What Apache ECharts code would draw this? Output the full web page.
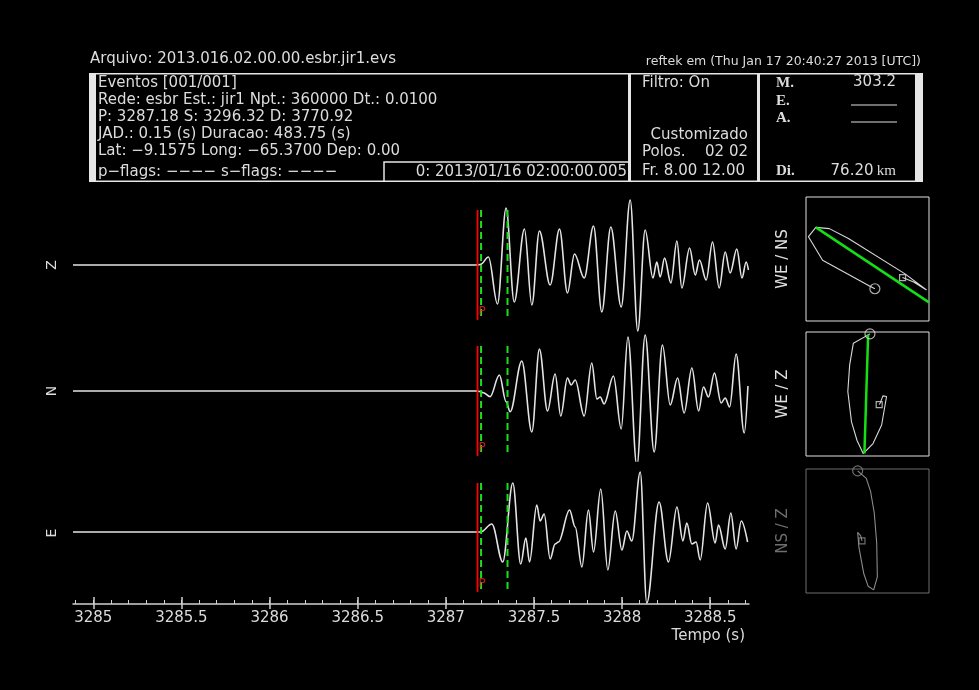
<!DOCTYPE html>
<html>
<head>
<meta charset="utf-8">
<script src="https://cdn.jsdelivr.net/npm/echarts@6/dist/echarts.min.js"></script>
<style>
  html, body { margin: 0; padding: 0; background: #000; }
  #chart { width: 979px; height: 690px; }
</style>
</head>
<body>
<div id="chart"></div>
<script>
// ---- Time axis ----
const timeMin = 3284.885;
const timeMax = 3288.72;
const timeTickLabels = [3285, 3285.5, 3286, 3286.5, 3287, 3287.5, 3288, 3288.5];

// ---- Picks (s) ----
const pTime = 3287.18;
const windowStart = 3287.20;
const windowEnd = 3287.35;

// ---- Component labels ----
const componentNames = ['Z', 'N', 'E'];

// ---- Filtered traces: [time (s), amplitude] at turning points ----
const traceZ = [
  [3284.885, 0], [3287.179, 0], [3287.198, 0.7], [3287.242, 8], [3287.293, -39],
  [3287.342, 57], [3287.388, -37], [3287.446, 36], [3287.488, -40], [3287.531, 34],
  [3287.592, -20], [3287.645, 36], [3287.690, -28], [3287.730, 11], [3287.785, -13],
  [3287.838, 39], [3287.885, -47], [3287.936, 38], [3287.995, -42], [3288.046, 65],
  [3288.089, -66], [3288.131, 35], [3288.175, -13], [3288.197, 3], [3288.216, -12],
  [3288.241, 7], [3288.277, -18], [3288.311, 24], [3288.339, -23], [3288.383, 17],
  [3288.415, -10], [3288.439, 5], [3288.477, -15], [3288.513, 23], [3288.551, -23],
  [3288.585, 13], [3288.613, -8], [3288.651, 16], [3288.680, -13], [3288.704, 3],
  [3288.717, -5]
];
const traceN = [
  [3284.885, 0], [3287.179, 0], [3287.213, -1.7], [3287.251, -5.7], [3287.304, 16],
  [3287.342, -10.7], [3287.365, -20.7], [3287.431, 30], [3287.488, -41], [3287.531, 42],
  [3287.577, -20], [3287.620, 17], [3287.652, -25], [3287.690, 13], [3287.711, 6],
  [3287.734, 11], [3287.785, -25], [3287.828, 28], [3287.857, -8], [3287.876, -6],
  [3287.898, -13], [3287.951, 15], [3287.995, -38], [3288.033, 54], [3288.084, -75],
  [3288.131, 56], [3288.182, -61], [3288.229, 46], [3288.273, -14], [3288.315, 13],
  [3288.352, -22], [3288.396, 23], [3288.434, -20], [3288.462, 4], [3288.490, -6],
  [3288.524, 18], [3288.562, -12], [3288.585, -7], [3288.610, -16], [3288.647, 37],
  [3288.693, -42], [3288.714, 5]
];
const traceE = [
  [3284.885, 0], [3287.198, 0], [3287.261, 8], [3287.323, -30], [3287.380, 49],
  [3287.425, -32], [3287.454, -6], [3287.475, -30], [3287.516, 27], [3287.535, 11],
  [3287.558, 18], [3287.592, -27], [3287.620, -12], [3287.639, -10], [3287.702, 22],
  [3287.734, 5], [3287.772, -35], [3287.809, 22], [3287.838, -20], [3287.879, 43],
  [3287.919, -38], [3287.961, 21], [3287.999, -18], [3288.027, 1], [3288.055, -9],
  [3288.103, 60], [3288.140, -71], [3288.210, 30], [3288.263, -30], [3288.311, 25],
  [3288.345, -9], [3288.367, 9], [3288.396, -12], [3288.420, -10], [3288.443, -28],
  [3288.485, 29], [3288.528, -11], [3288.547, 7], [3288.585, -17], [3288.617, 19],
  [3288.647, -17], [3288.676, 11], [3288.712, -10]
];

// Vertical extent of the pick markers on each trace (amplitude units)
const pickTop = [55, 45, 49];
const pickBottom = [-55, -65, -60];

// ---- Particle motion in the P window (normalised) ----
const pmLabels = ['WE / NS', 'WE / Z', 'NS / Z'];
const pmWeNs = [
  [0.12, -0.48], [0.04, -0.44], [-0.73, -0.02], [-0.96, 0.36], [-0.84, 0.51],
  [-0.62, 0.49], [-0.31, 0.33], [0.61, -0.24], [0.96, -0.50], [0.75, -0.37], [0.57, -0.30]
];
const pmWeZ = [
  [0.04, 0.97], [-0.23, 0.82], [-0.29, 0.47], [-0.32, 0.04], [-0.26, -0.45],
  [-0.17, -0.75], [-0.07, -0.96], [0.09, -0.80], [0.23, -0.50], [0.28, -0.21],
  [0.31, -0.04], [0.25, -0.03], [0.21, -0.14], [0.19, -0.17]
];
const pmNsZ = [
  [-0.16, 0.97], [-0.02, 0.85], [0.05, 0.64], [0.11, 0.29], [0.15, -0.20],
  [0.16, -0.74], [0.10, -0.95], [0.01, -0.89], [-0.06, -0.69], [-0.14, -0.26],
  [-0.16, -0.02], [-0.11, -0.08], [-0.09, -0.16]
];
// Polarisation direction lines
const polWeNs = [[-0.84, 0.51], [1.0, -0.70]];
const polWeZ = [[0.01, 0.96], [-0.05, -0.96]];

// ---- Header texts ----
const fileLine = 'Arquivo: 2013.016.02.00.00.esbr.jir1.evs';
const stampLine = 'reftek em (Thu Jan 17 20:40:27 2013 [UTC])';
const eventLines = [
  'Eventos [001/001]',
  'Rede: esbr Est.: jir1 Npt.: 360000 Dt.: 0.0100',
  'P: 3287.18 S: 3296.32 D: 3770.92',
  'JAD.: 0.15 (s) Duracao: 483.75 (s)',
  'Lat: \u22129.1575 Long: \u221265.3700 Dep: 0.00'
];
const flagsLine = 'p\u2212flags: \u2212\u2212\u2212\u2212 s\u2212flags: \u2212\u2212\u2212\u2212';
const originLine = '0: 2013/01/16 02:00:00.005';
const filterLines = { state: 'Filtro: On', type: 'Customizado', poles: ['Polos.', '02 02'], band: 'Fr. 8.00 12.00' };
const magnitude = '303.2';
const distance = '76.20';

// ---------------------------------------------------------------
const FONT = '"DejaVu Sans", sans-serif';
const TXT = '#dcdcdc';
const AX = '#d0d0d0';

const minorTicks = [];
for (let k = 0; k <= 38; k++) minorTicks.push(+(3284.9 + k * 0.1).toFixed(1));

const traceData = [traceZ, traceN, traceE];
const traceTops = [195, 321, 462];

const grids = [];
const xAxes = [];
const yAxes = [];
const series = [];

// Seismogram panels
traceData.forEach((tr, i) => {
  const last = i === 2;
  grids.push({ left: 73, width: 676, top: traceTops[i], height: last ? 142 : 140, outerBoundsMode: 'none' });
  xAxes.push({
    type: 'value', gridIndex: i, min: timeMin, max: timeMax, position: 'bottom',
    axisLine: { show: last, onZero: false, lineStyle: { color: AX, width: 1.5 } },
    axisTick: { show: last, inside: true, length: 7, customValues: timeTickLabels, lineStyle: { color: AX, width: 1.5 } },
    axisLabel: { show: last, customValues: timeTickLabels, color: TXT, fontSize: 15, fontFamily: FONT, margin: 7,
      formatter: v => String(v) },
    splitLine: { show: false }
  });
  yAxes.push({
    type: 'value', gridIndex: i, min: last ? -72 : -70, max: 70,
    name: componentNames[i], nameLocation: 'middle', nameRotate: 90, nameGap: 14,
    nameTextStyle: { color: TXT, fontSize: 14, fontFamily: FONT },
    axisLine: { show: false, onZero: false }, axisTick: { show: false }, axisLabel: { show: false }, splitLine: { show: false }
  });
});
// extra tick layers on the time axis
xAxes.push({
  type: 'value', gridIndex: 2, min: timeMin, max: timeMax, position: 'bottom',
  axisLine: { show: false, onZero: false },
  axisTick: { show: true, inside: true, length: 4, customValues: minorTicks, lineStyle: { color: AX, width: 1 } },
  axisLabel: { show: false }, splitLine: { show: false }
});
xAxes.push({
  type: 'value', gridIndex: 2, min: timeMin, max: timeMax, position: 'bottom',
  axisLine: { show: false, onZero: false },
  axisTick: { show: true, inside: false, length: 5, customValues: timeTickLabels, lineStyle: { color: AX, width: 1.5 } },
  axisLabel: { show: false }, splitLine: { show: false }
});

traceData.forEach((tr, i) => {
  series.push({
    type: 'line', xAxisIndex: i, yAxisIndex: i, data: tr, showSymbol: false, symbol: 'none',
    smooth: 0.35, smoothMonotone: 'x', silent: true, z: 2,
    lineStyle: { color: '#e4e4e4', width: 1.6 }
  });
  series.push({
    type: 'line', xAxisIndex: i, yAxisIndex: i, symbol: 'none', silent: true, z: 3,
    data: [[pTime, pickTop[i]], [pTime, pickBottom[i]]],
    lineStyle: { color: '#ff0000', width: 1.8 }
  });
  [windowStart, windowEnd].forEach(t => {
    series.push({
      type: 'line', xAxisIndex: i, yAxisIndex: i, symbol: 'none', silent: true, z: 4,
      data: [[t, pickTop[i]], [t, pickBottom[i]]],
      lineStyle: { color: '#18e018', width: 2, type: [7, 4] }
    });
  });
  series.push({
    type: 'scatter', xAxisIndex: i, yAxisIndex: i, symbolSize: 2, silent: true, z: 5,
    itemStyle: { color: 'rgba(0,0,0,0)' },
    data: [[pTime, pickBottom[i] + 8]],
    label: { show: true, formatter: 'P', position: 'right', distance: 0, color: '#ff2020', fontSize: 12, fontFamily: FONT }
  });
});

// Particle-motion panels
const pmTops = [197, 332, 469];
const pmData = [pmWeNs, pmWeZ, pmNsZ];
const pmPol = [polWeNs, polWeZ, null];
const pmColors = ['#e0e0e0', '#e0e0e0', '#6e6e6e'];
pmData.forEach((pts, j) => {
  const gi = 3 + j;
  grids.push({ left: 806, width: 123, top: pmTops[j], height: 124, show: true,
    borderColor: pmColors[j], borderWidth: 1, backgroundColor: 'transparent', outerBoundsMode: 'none' });
  xAxes.push({ type: 'value', gridIndex: gi, min: -1, max: 1,
    axisLine: { show: false, onZero: false }, axisTick: { show: false }, axisLabel: { show: false }, splitLine: { show: false } });
  yAxes.push({ type: 'value', gridIndex: gi, min: -1, max: 1,
    name: pmLabels[j], nameLocation: 'middle', nameRotate: 90, nameGap: 15,
    nameTextStyle: { color: pmColors[j], fontSize: 15, fontFamily: FONT },
    axisLine: { show: false, onZero: false }, axisTick: { show: false }, axisLabel: { show: false }, splitLine: { show: false } });
  const xi = 5 + j;
  const stroke = j === 2 ? '#8a8a8a' : '#d8d8d8';
  series.push({ type: 'line', xAxisIndex: xi, yAxisIndex: gi, data: pts, symbol: 'none', silent: true,
    lineStyle: { color: stroke, width: 1.1 }, z: 2 });
  if (pmPol[j]) {
    series.push({ type: 'line', xAxisIndex: xi, yAxisIndex: gi, data: pmPol[j], symbol: 'none', silent: true,
      lineStyle: { color: '#14e014', width: 2.5 }, z: 3 });
  }
  series.push({ type: 'scatter', xAxisIndex: xi, yAxisIndex: gi, data: [pts[0]], symbol: 'circle', symbolSize: 10,
    silent: true, z: 4, itemStyle: { color: 'rgba(0,0,0,0)', borderColor: stroke, borderWidth: 1.2 } });
  series.push({ type: 'scatter', xAxisIndex: xi, yAxisIndex: gi, data: [pts[pts.length - 1]], symbol: 'rect', symbolSize: 6,
    silent: true, z: 4, itemStyle: { color: 'rgba(0,0,0,0)', borderColor: stroke, borderWidth: 1.2 } });
});

// Header panels
function txt(x, y, text, opts) {
  return { type: 'text', silent: true, style: Object.assign({
    x: x, y: y, text: text, fill: TXT, font: '15px ' + FONT, align: 'left', verticalAlign: 'middle'
  }, opts || {}) };
}
const SERIF = 'bold 15px "Liberation Serif", "DejaVu Serif", serif';
const graphic = [
  txt(90, 59, fileLine),
  txt(921, 62, stampLine, { align: 'right', font: '12.5px ' + FONT }),
  { type: 'rect', silent: true, shape: { x: 89, y: 73, width: 834, height: 109 }, style: { fill: '#e6e6e6' } },
  { type: 'rect', silent: true, shape: { x: 96, y: 74.5, width: 532, height: 106 }, style: { fill: '#000' } },
  { type: 'rect', silent: true, shape: { x: 631, y: 74.5, width: 126, height: 106 }, style: { fill: '#000' } },
  { type: 'rect', silent: true, shape: { x: 760, y: 74.5, width: 155, height: 106 }, style: { fill: '#000' } },
  { type: 'polyline', silent: true, shape: { points: [[384, 182], [384, 162], [629, 162]] }, style: { stroke: '#e6e6e6', lineWidth: 1.5, fill: null } },
  txt(627, 172, originLine, { align: 'right' }),
  txt(98, 172, flagsLine),
  txt(642, 83, filterLines.state),
  txt(748, 135, filterLines.type, { align: 'right' }),
  txt(642, 152, filterLines.poles[0]),
  txt(748, 152, filterLines.poles[1], { align: 'right' }),
  txt(642, 171, filterLines.band),
  txt(776, 83, 'M.', { font: SERIF }),
  txt(896, 82, magnitude, { align: 'right' }),
  txt(776, 101, 'E.', { font: SERIF }),
  { type: 'line', silent: true, shape: { x1: 851, y1: 105, x2: 897, y2: 105 }, style: { stroke: '#e0e0e0', lineWidth: 1.2 } },
  txt(776, 118, 'A.', { font: SERIF }),
  { type: 'line', silent: true, shape: { x1: 851, y1: 122, x2: 897, y2: 122 }, style: { stroke: '#e0e0e0', lineWidth: 1.2 } },
  txt(776, 171, 'Di.', { font: SERIF }),
  { type: 'text', silent: true, style: { x: 896, y: 171, align: 'right', verticalAlign: 'middle',
      text: '{n|' + distance + '} {u|km}', fill: TXT,
      rich: { n: { font: '15px ' + FONT, fill: TXT }, u: { font: '15px "Liberation Serif", "DejaVu Serif", serif', fill: TXT } } } },
  txt(745, 636, 'Tempo (s)', { align: 'right' })
];
eventLines.forEach((line, k) => graphic.push(txt(98, 83 + k * 17, line)));

const chart = echarts.init(document.getElementById('chart'), null, { renderer: 'canvas' });
chart.setOption({
  backgroundColor: '#000',
  animation: false,
  grid: grids,
  xAxis: xAxes,
  yAxis: yAxes,
  series: series,
  graphic: graphic
});
</script>
</body>
</html>
